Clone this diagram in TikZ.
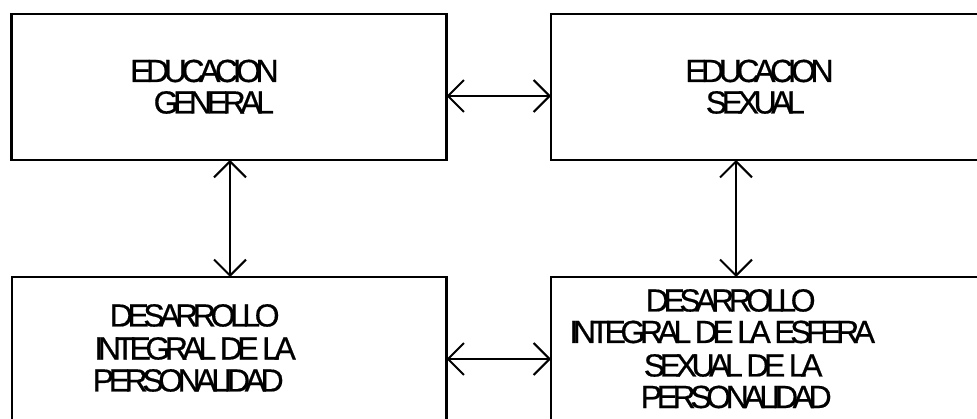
\documentclass[tikz,border=0pt]{standalone}
\usepackage{fontspec}
\newfontfamily\lblfont{Liberation Sans}[LetterSpace=-17.0,FakeBold=0.5]
\usetikzlibrary{arrows.meta}
\begin{document}
\begin{tikzpicture}[x=1pt,y=-1pt,
  box/.style={draw,line width=2.4pt,rectangle,inner sep=0pt,outer sep=0pt,anchor=north west},
  lbl/.style={inner sep=0pt,anchor=base west,font=\lblfont\fontsize{32}{33}\selectfont},
  link/.style={line width=2pt,{Straight Barb[length=16pt,width=32pt]}-{Straight Barb[length=16pt,width=32pt]}}]
\useasboundingbox (0,0) rectangle (977,419);
\fill[white] (0,0) rectangle (977,419);
\clip (0,0) rectangle (977,419);
% boxes
\node[box,minimum width=435pt,minimum height=146pt] (tl) at (11.5,14) {};
\node[box,minimum width=449pt,minimum height=146pt] (tr) at (551,14) {};
\node[box,minimum width=434.5pt,minimum height=170pt] (bl) at (12,277) {};
\node[box,minimum width=449pt,minimum height=170pt] (br) at (551,277) {};
% texts
\node[lbl] (tl1) at (130,82) {EDUCACION};
\node[lbl] (tl2) at (153.5,113.5) {GENERAL};
\node[lbl] (tr1) at (685,82) {EDUCACION};
\node[lbl] (tr2) at (705.6,113.5) {SEXUAL};
\node[lbl] (bl1) at (109.6,326.5) {DESARROLLO};
\node[lbl] (bl2) at (94.1,359.5) {INTEGRAL DE LA};
\node[lbl] (bl3) at (92.6,391.5) {PERSONALIDAD};
\node[lbl] (br1) at (645.6,311.5) {DESARROLLO};
\node[lbl] (br2) at (569.1,343) {INTEGRAL DE LA ESFERA};
\node[lbl] (br3) at (643.6,376.5) {SEXUAL DE LA};
\node[lbl] (br4) at (640.6,408) {PERSONALIDAD};
% connectors
\coordinate (a1) at ([yshift=-82pt]tl.north east);
\draw[link] (a1) -- (a1 -| tr.west);
\coordinate (a2) at ([yshift=-82pt]bl.north east);
\draw[link] (a2) -- (a2 -| br.west);
\coordinate (v1) at ([xshift=218.5pt]tl.south west);
\draw[link] (v1) -- (v1 |- bl.north);
\coordinate (v2) at ([xshift=185pt]tr.south west);
\draw[link] (v2) -- (v2 |- br.north);
\end{tikzpicture}
\end{document}
